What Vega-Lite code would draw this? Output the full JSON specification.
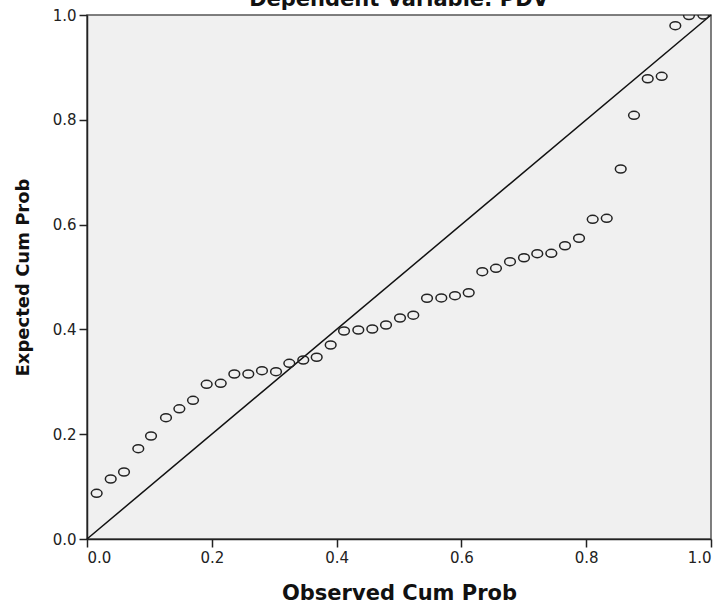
{
  "$schema": "https://vega.github.io/schema/vega-lite/v6.json",
  "width": 624,
  "height": 524,
  "autosize": {"type": "none"},
  "padding": {"left": 87, "top": 15, "right": 14, "bottom": 66},
  "background": "white",
  "title": {
    "text": "Dependent Variable: PDV",
    "font": "DejaVu Sans",
    "fontSize": 21,
    "fontWeight": "bold",
    "color": "#111111",
    "offset": -2,
    "anchor": "middle",
    "frame": "group"
  },
  "config": {
    "view": {"fill": "#f0f0f0", "stroke": "#555555", "strokeWidth": 1.5},
    "axis": {
      "grid": false,
      "domainColor": "#222222",
      "domainWidth": 1.5,
      "tickColor": "#222222",
      "tickWidth": 1.5,
      "tickSize": 8,
      "labelPadding": 3,
      "labelFont": "DejaVu Sans",
      "labelFontSize": 15,
      "labelColor": "#222222",
      "titleFont": "DejaVu Sans",
      "titleFontWeight": "bold",
      "titleColor": "#111111"
    }
  },
  "datasets": {
    "pp": [
      {"observed": 0.0155, "expected": 0.0872},
      {"observed": 0.038, "expected": 0.1145},
      {"observed": 0.0593, "expected": 0.1279},
      {"observed": 0.0822, "expected": 0.1723},
      {"observed": 0.1026, "expected": 0.1966},
      {"observed": 0.1266, "expected": 0.2315},
      {"observed": 0.148, "expected": 0.2485},
      {"observed": 0.1699, "expected": 0.2647},
      {"observed": 0.1918, "expected": 0.2952},
      {"observed": 0.2143, "expected": 0.2971},
      {"observed": 0.2361, "expected": 0.3149},
      {"observed": 0.2585, "expected": 0.3149},
      {"observed": 0.2804, "expected": 0.3212},
      {"observed": 0.3029, "expected": 0.3193},
      {"observed": 0.3242, "expected": 0.3353},
      {"observed": 0.3466, "expected": 0.3416},
      {"observed": 0.3681, "expected": 0.3468},
      {"observed": 0.3905, "expected": 0.3702},
      {"observed": 0.4119, "expected": 0.3969},
      {"observed": 0.4348, "expected": 0.3989},
      {"observed": 0.4572, "expected": 0.4008},
      {"observed": 0.4792, "expected": 0.4084},
      {"observed": 0.5016, "expected": 0.4218},
      {"observed": 0.5229, "expected": 0.4271},
      {"observed": 0.5449, "expected": 0.4594},
      {"observed": 0.5678, "expected": 0.46},
      {"observed": 0.5897, "expected": 0.4643},
      {"observed": 0.6117, "expected": 0.47},
      {"observed": 0.6335, "expected": 0.5101},
      {"observed": 0.6554, "expected": 0.5166},
      {"observed": 0.6779, "expected": 0.5292},
      {"observed": 0.7003, "expected": 0.5368},
      {"observed": 0.7216, "expected": 0.5445},
      {"observed": 0.7441, "expected": 0.5452},
      {"observed": 0.766, "expected": 0.5597},
      {"observed": 0.7885, "expected": 0.5739},
      {"observed": 0.8104, "expected": 0.6101},
      {"observed": 0.8329, "expected": 0.612},
      {"observed": 0.8553, "expected": 0.7061},
      {"observed": 0.8766, "expected": 0.8086},
      {"observed": 0.8986, "expected": 0.8784},
      {"observed": 0.921, "expected": 0.883},
      {"observed": 0.9428, "expected": 0.9796},
      {"observed": 0.9647, "expected": 0.999},
      {"observed": 0.9877, "expected": 1.0}
    ],
    "diag": [
      {"observed": 0, "expected": 0},
      {"observed": 1, "expected": 1}
    ]
  },
  "encoding": {
    "x": {
      "field": "observed",
      "type": "quantitative",
      "scale": {"domain": [0, 1], "nice": false, "zero": false},
      "axis": {
        "values": [0, 0.2, 0.4, 0.6, 0.8, 1.0],
        "format": ".1f",
        "title": "Observed Cum Prob",
        "titleFontSize": 21,
        "titlePadding": 17
      }
    },
    "y": {
      "field": "expected",
      "type": "quantitative",
      "scale": {"domain": [0, 1], "nice": false, "zero": false},
      "axis": {
        "values": [0, 0.2, 0.4, 0.6, 0.8, 1.0],
        "format": ".1f",
        "title": "Expected Cum Prob",
        "titleFontSize": 18,
        "titlePadding": 20
      }
    }
  },
  "layer": [
    {
      "data": {"name": "diag"},
      "mark": {"type": "line", "color": "#111111", "strokeWidth": 1.5}
    },
    {
      "data": {"name": "pp"},
      "mark": {
        "type": "point",
        "filled": false,
        "clip": true,
        "shape": "M -1 0 A 1 0.74 0 1 0 1 0 A 1 0.74 0 1 0 -1 0 Z",
        "size": 115,
        "stroke": "#222222",
        "strokeWidth": 1.5,
        "opacity": 1
      }
    }
  ]
}
